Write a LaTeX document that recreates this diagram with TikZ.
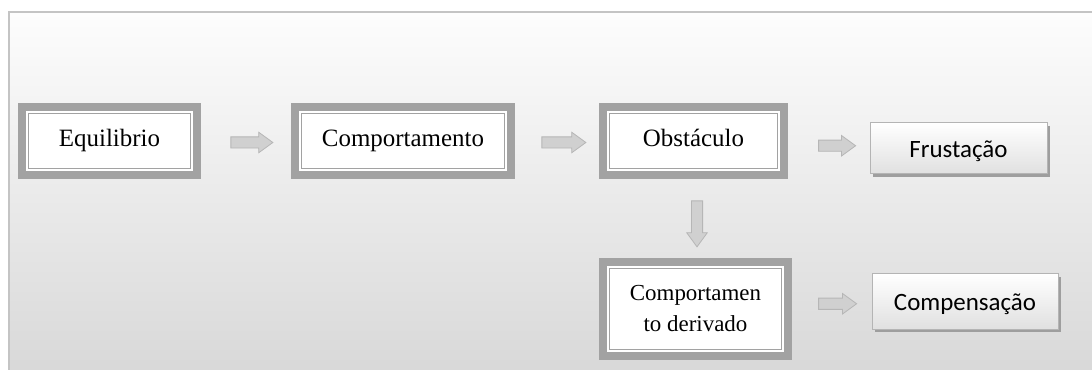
\documentclass[tikz,border=0pt]{standalone}
\usepackage{fontspec}
\setmainfont{Liberation Serif}
\newfontfamily\calibrifont{Carlito}
\usetikzlibrary{shapes.arrows,shadows,calc}

\definecolor{framegray}{HTML}{C4C4C4}
\definecolor{bgtop}{HTML}{FDFDFD}
\definecolor{bgbottom}{HTML}{D7D7D7}
\definecolor{boxgray}{HTML}{A2A2A2}
\definecolor{arrowfill}{HTML}{D0D0D0}
\definecolor{arrowline}{HTML}{B6B6B6}
\definecolor{btnline}{HTML}{B4B4B4}
\definecolor{btnshade}{HTML}{E0E0E0}
\definecolor{btnshadow}{HTML}{9E9E9E}

\tikzset{
  dbox/.style={draw=boxgray, line width=6pt, fill=white, inner sep=0pt,
    align=center, minimum height=51pt, text height=12.5pt, text depth=4pt,
    font=\fontsize{18.7}{23}\selectfont},
  innerline/.style={draw=boxgray, line width=1pt},
  sbox/.style={draw=btnline, line width=0.75pt, top color=white,
    bottom color=btnshade, inner sep=0pt, text height=16.8pt, text depth=4pt,
    font=\calibrifont\fontsize{18.7}{22}\selectfont,
    drop shadow={shadow xshift=2.25pt, shadow yshift=-2.25pt,
      fill=btnshadow, opacity=1}},
  blockarrow/.style={single arrow, draw=arrowline, fill=arrowfill,
    line width=0.6pt, inner xsep=0pt, inner ysep=3.9pt,
    single arrow head extend=3.5pt, single arrow tip angle=72,
    minimum width=0pt},
}

\begin{document}
\begin{tikzpicture}[x=0.75pt,y=-0.75pt]
  % canvas and framed background
  \useasboundingbox (0,0) rectangle (1092,370);
  \clip (0,0) rectangle (1092,370);
  \fill[white] (0,0) rectangle (1092,370);
  \draw[draw=framegray, line width=1.5pt, top color=bgtop, bottom color=bgbottom]
    (9,12) rectangle (1104,384);

  % framed boxes
  \node[dbox, minimum width=131.25pt] (eq) at (109.5,141) {Equilibrio};
  \node[dbox, minimum width=162pt] (co) at (403,141) {Comportamento};
  \node[dbox, minimum width=135.75pt] (ob) at (693.5,141) {Obstáculo};
  \node[dbox, minimum width=138.75pt, minimum height=70.5pt,
    text height=, text depth=,
    font=\fontsize{17.2}{23.25}\selectfont] (de) at (695.5,309)
    {Comportamen\\to derivado};

  % thin inner rule of each framed box (anchors sit on the outer edge)
  \foreach \n in {eq,co,ob,de}
    \draw[innerline] ([shift={(8pt,-8pt)}]\n.north west)
      rectangle ([shift={(-8pt,8pt)}]\n.south east);

  % raised buttons
  \node[sbox, minimum width=132.75pt, minimum height=38.25pt] (fr)
    at (958.5,148.5) {Frustação};
  \node[sbox, minimum width=139.5pt, minimum height=41.25pt] (cp)
    at (965,301.5) {Compensação};

  % block arrows between the boxes
  \node[blockarrow, minimum height=31.5pt] (a1)
    at ($($(eq.east)!0.5!(co.west)$)+(2,1.5)$) {};
  \node[blockarrow, minimum height=33pt] (a2)
    at ($($(co.east)!0.5!(ob.west)$)+(3,1.5)$) {};
  \node[blockarrow, minimum height=27.75pt] (a3)
    at ($($(ob.east)!0.5!(fr.west)$)+(4.5,1)$) {};
  \node[blockarrow, minimum height=34.5pt, rotate=-90] (a4)
    at ($($(ob.south)!0.5!(de.north)$)+(2.5,1.5)$) {};
  \node[blockarrow, minimum height=28.5pt] (a5)
    at ($($(de.east)!0.5!(cp.west)$)+(2,-1.5)$) {};
\end{tikzpicture}
\end{document}
